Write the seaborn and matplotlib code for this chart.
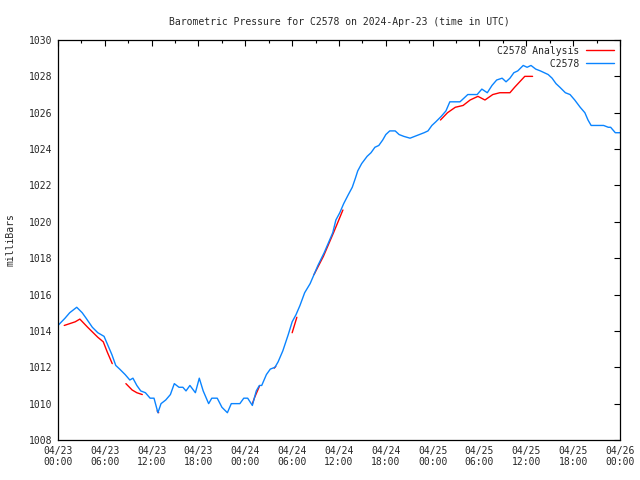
import pandas as pd
import numpy as np
import matplotlib
matplotlib.use("Agg")
import matplotlib.pyplot as plt
import matplotlib.dates as mdates
import seaborn as sns

# Beobachtungen C2578 (Stunden ab 2024-04-23 00:00 UTC, mbar)
obs_hours = [0.0, 0.9, 1.5, 2.4, 3.1, 3.6, 4.4, 5.1, 5.9, 6.4, 6.9, 7.4, 7.9, 8.6,
             9.2, 9.6, 10.1, 10.6, 11.2, 11.8, 12.3, 12.8, 13.2, 13.8, 14.4, 14.9,
             15.5, 16.0, 16.4, 16.9, 17.6, 18.1, 18.6, 19.3, 19.7, 20.4, 21.0, 21.7,
             22.2, 23.3, 23.8, 24.3, 24.9, 25.4, 25.8, 26.1, 26.7, 27.2, 27.8, 28.2,
             28.8, 29.5, 30.0, 30.5, 31.0, 31.6, 32.3, 32.8, 33.3, 34.1, 34.6, 35.2,
             35.6, 36.1, 36.6, 37.2, 37.7, 38.1, 38.4, 38.9, 39.6, 40.1, 40.6, 41.1,
             41.6, 42.0, 42.5, 43.2, 43.7, 44.3, 45.1, 45.7, 46.3, 46.9, 47.4, 47.9,
             48.4, 49.1, 49.7, 50.2, 51.0, 51.5, 52.0, 52.5, 53.2, 53.7, 54.3, 55.0,
             55.6, 56.2, 56.9, 57.4, 57.9, 58.4, 58.9, 59.6, 60.1, 60.6, 61.2, 61.8,
             62.3, 62.8, 63.3, 63.8, 64.3, 65.0, 65.6, 66.2, 66.9, 67.5, 67.9, 68.3,
             68.9, 69.4, 69.9, 70.5, 70.8, 71.4, 72.0]
obs_mbar = [1014.3, 1014.7, 1015.0, 1015.3, 1015.0, 1014.7, 1014.2, 1013.9, 1013.7,
            1013.2, 1012.7, 1012.1, 1011.9, 1011.6, 1011.3, 1011.4, 1011.0, 1010.7,
            1010.6, 1010.3, 1010.3, 1009.5, 1010.0, 1010.2, 1010.5, 1011.1, 1010.9,
            1010.9, 1010.7, 1011.0, 1010.6, 1011.4, 1010.7, 1010.0, 1010.3, 1010.3,
            1009.8, 1009.5, 1010.0, 1010.0, 1010.3, 1010.3, 1009.9, 1010.7, 1011.0,
            1011.0, 1011.6, 1011.9, 1012.0, 1012.3, 1012.9, 1013.8, 1014.5, 1014.9,
            1015.4, 1016.1, 1016.6, 1017.1, 1017.6, 1018.3, 1018.8, 1019.4, 1020.1,
            1020.5, 1021.0, 1021.5, 1021.9, 1022.4, 1022.8, 1023.2, 1023.6, 1023.8,
            1024.1, 1024.2, 1024.5, 1024.8, 1025.0, 1025.0, 1024.8, 1024.7, 1024.6,
            1024.7, 1024.8, 1024.9, 1025.0, 1025.3, 1025.5, 1025.8, 1026.1, 1026.6,
            1026.6, 1026.6, 1026.8, 1027.0, 1027.0, 1027.0, 1027.3, 1027.1, 1027.5,
            1027.8, 1027.9, 1027.7, 1027.9, 1028.2, 1028.3, 1028.6, 1028.5, 1028.6,
            1028.4, 1028.3, 1028.2, 1028.1, 1027.9, 1027.6, 1027.4, 1027.1, 1027.0,
            1026.7, 1026.3, 1026.0, 1025.6, 1025.3, 1025.3, 1025.3, 1025.3, 1025.2,
            1025.2, 1024.9, 1024.9]

# Analyse (mit Luecken -> Segmente)
ana_seg = [1, 1, 1, 1, 1, 1, 1, 1, 1, 1,
           2, 2, 2, 2,
           3, 3,
           4, 4, 4,
           5, 5,
           6, 6,
           7, 7, 7, 7,
           8, 8, 8, 8, 8, 8, 8, 8, 8, 8, 8, 8, 8]
ana_hours = [0.8, 1.5, 2.2, 2.8, 3.8, 5.1, 5.8, 6.3, 6.9, 6.95,
             8.7, 9.5, 10.1, 10.8,
             12.7, 12.9,
             24.9, 25.2, 25.8,
             27.7, 27.9,
             30.0, 30.6,
             32.8, 34.0, 35.3, 36.5,
             49.0, 49.9, 50.9, 51.9, 52.8, 53.8, 54.7, 55.7, 56.6, 57.9, 58.5, 59.8, 60.8]
ana_mbar = [1014.3, 1014.4, 1014.5, 1014.65, 1014.2, 1013.65, 1013.4, 1012.85, 1012.25, 1012.2,
            1011.1, 1010.75, 1010.6, 1010.5,
            1009.6, 1009.5,
            1010.0, 1010.35, 1010.95,
            1011.95, 1012.05,
            1013.9, 1014.75,
            1017.1, 1018.1, 1019.4, 1020.65,
            1025.6, 1026.0, 1026.3, 1026.4, 1026.7, 1026.9, 1026.7, 1027.0, 1027.1, 1027.1,
            1027.4, 1028.0, 1028.0]

start = pd.Timestamp("2024-04-23 00:00")
df_obs = pd.DataFrame({"time": start + pd.to_timedelta(obs_hours, unit="h"),
                       "mbar": obs_mbar})
df_ana = pd.DataFrame({"time": start + pd.to_timedelta(ana_hours, unit="h"),
                       "mbar": ana_mbar, "seg": ana_seg})

sns.set_style("white")
plt.rcParams["font.family"] = ["DejaVu Sans Mono"]
plt.rcParams["font.size"] = 7

fig = plt.figure(figsize=(6.4, 4.8), dpi=100)
ax = fig.add_axes([58 / 640, 40 / 480, 562 / 640, 400 / 480])

sns.lineplot(data=df_ana, x="time", y="mbar", units="seg", estimator=None,
             color="#ff0000", lw=1, ax=ax, legend=False)
sns.lineplot(data=df_obs, x="time", y="mbar", color="#0a84ff", lw=1, ax=ax,
             legend=False)

ax.set_xlim(start, start + pd.Timedelta(hours=72))
ax.set_ylim(1008, 1030)
ax.set_yticks(np.arange(1008, 1031, 2))
ax.xaxis.set_major_locator(mdates.HourLocator(byhour=[0, 6, 12, 18]))
ax.xaxis.set_minor_locator(mdates.HourLocator(byhour=[3, 9, 15, 21]))
ax.xaxis.set_major_formatter(mdates.DateFormatter("%m/%d\n%H:%M"))
ax.tick_params(which="both", direction="in", top=True, right=True,
               labelsize=7, color="black", pad=4)
ax.tick_params(which="major", length=4, width=0.8)
ax.tick_params(which="minor", length=2, width=0.8)
for s in ax.spines.values():
    s.set_color("black")
    s.set_linewidth(0.9)

ax.set_xlabel("")
ax.set_ylabel("milliBars", fontsize=7)
ax.yaxis.set_label_coords(-0.076, 0.5)
ax.set_title("Barometric Pressure for C2578 on 2024-Apr-23 (time in UTC)",
             fontsize=7, pad=11)

# Legende: rote Linie = erstes Segment, blaue = Beobachtung
lines = ax.get_lines()
handles = [lines[0], lines[-1]]
labels = ["C2578 Analysis", "         C2578"]
ax.legend(handles, labels, loc="upper right", frameon=False, markerfirst=False,
          fontsize=7, handlelength=2.9, borderaxespad=0.4, borderpad=0.2,
          labelspacing=0.3, handletextpad=0.7)

fig.savefig("out.png", dpi=100)
